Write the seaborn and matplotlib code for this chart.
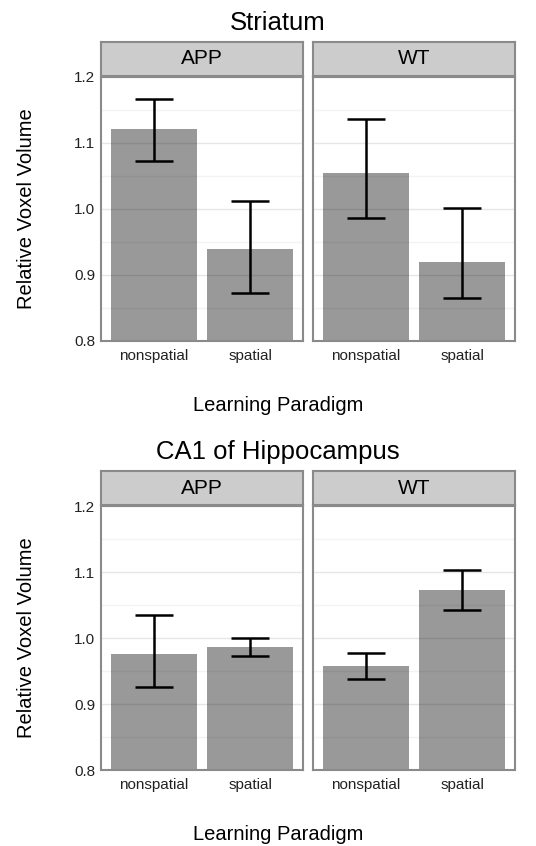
import pandas as pd
import matplotlib.pyplot as plt
import seaborn as sns
import numpy as np

# values
genotypes = ["APP", "WT"]
paradigms = ["nonspatial", "spatial"]

striatum_mean = [1.121, 0.940, 1.055, 0.920]
striatum_low = [1.072, 0.872, 0.986, 0.865]
striatum_high = [1.167, 1.012, 1.137, 1.001]

ca1_mean = [0.975, 0.987, 0.957, 1.073]
ca1_low = [0.925, 0.972, 0.938, 1.042]
ca1_high = [1.035, 1.000, 0.978, 1.103]

regions = ["Striatum", "CA1 of Hippocampus"]
y_ticks = [0.8, 0.9, 1.0, 1.1, 1.2]

sns.set_style("white")
plt.rcParams['font.family'] = ['Liberation Sans', 'DejaVu Sans']
plt.rcParams['text.color'] = 'black'

W, H = 536, 846
fig = plt.figure(figsize=(W / 100, H / 100), dpi=100)

border = "#8a8a8a"
grid_major = "#e6e6e6"
grid_minor = "#f3f3f3"


def box(x0, x1, ytop, ybot):
    return [x0 / W, 1 - ybot / H, (x1 - x0) / W, (ybot - ytop) / H]


def draw_region(name, mean, low, high, top):
    # top = pixel y of strip top
    df = pd.DataFrame({
        "genotype": np.repeat(genotypes, 2),
        "paradigm": paradigms * 2,
        "volume": mean,
        "low": low,
        "high": high,
    })
    fig.text(0.519, 1 - (top - 19) / H, name, ha="center", va="center", fontsize=18.5)
    panel_top = top + 35
    panel_bot = panel_top + 264
    for i, g in enumerate(genotypes):
        x0 = 101 + i * 212
        x1 = x0 + 202
        sub = df[df["genotype"] == g]
        ax = fig.add_axes(box(x0, x1, panel_top, panel_bot))
        ax.set_yticks([0.85, 0.95, 1.05, 1.15], minor=True)
        ax.set_yticks(y_ticks)
        ax.set_xticks([0, 1])
        ax.grid(True, which="major", color=grid_major, lw=1.0, zorder=0)
        ax.grid(True, which="minor", axis="y", color=grid_minor, lw=1.0, zorder=0)
        ax.set_axisbelow(True)
        sns.barplot(data=sub, x="paradigm", y="volume", order=paradigms,
                    color="black", saturation=1, width=0.9, errorbar=None,
                    alpha=0.4, linewidth=0, ax=ax, zorder=2)
        ax.errorbar(np.arange(2), sub["volume"],
                    yerr=[sub["volume"] - sub["low"], sub["high"] - sub["volume"]],
                    fmt="none", ecolor="black", elinewidth=1.8, capsize=14,
                    capthick=1.8, zorder=3)
        ax.set_xlim(-0.55, 1.55)
        ax.set_ylim(0.8, 1.2)
        ax.set_xlabel("")
        ax.set_ylabel("")
        ax.tick_params(axis="both", length=0, labelsize=11, labelcolor="#222222")
        ax.tick_params(axis="x", pad=6)
        ax.tick_params(axis="y", pad=4)
        ax.tick_params(axis="y", which="minor", length=0)
        ax.set_xticklabels(paradigms)
        if i == 0:
            ax.set_yticklabels([f"{t:.1f}" for t in y_ticks])
        else:
            ax.set_yticklabels([])
        for s in ax.spines.values():
            s.set_visible(True)
            s.set_color(border)
            s.set_linewidth(1.5)
            s.set_zorder(4)
        # facet strip
        sx = fig.add_axes(box(x0, x1, top, panel_top - 1))
        sx.set_facecolor("#cccccc")
        sx.set_xticks([])
        sx.set_yticks([])
        for s in sx.spines.values():
            s.set_color(border)
            s.set_linewidth(1.5)
        sx.text(0.5, 0.5, g, ha="center", va="center", fontsize=15,
                transform=sx.transAxes)
    fig.text(27 / W, 1 - (panel_top + panel_bot) / 2 / H, "Relative Voxel Volume",
             rotation=90, ha="center", va="center", fontsize=14.5)
    fig.text(0.519, 1 - (panel_bot + 64) / H, "Learning Paradigm",
             ha="center", va="center", fontsize=14.5)


draw_region(regions[0], striatum_mean, striatum_low, striatum_high, 42)
draw_region(regions[1], ca1_mean, ca1_low, ca1_high, 471)

fig.savefig("out.png", dpi=100)
